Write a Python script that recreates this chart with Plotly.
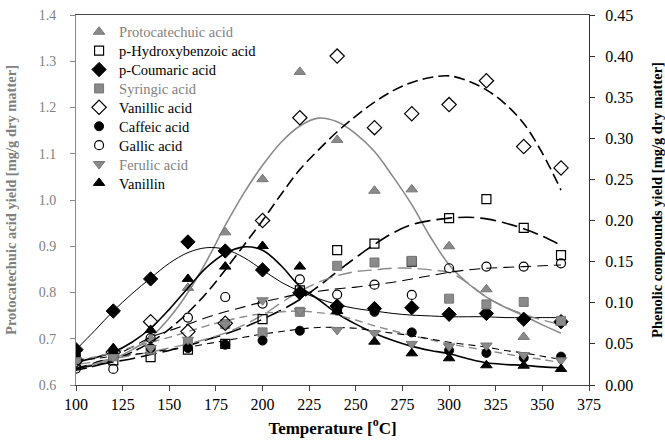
import plotly.graph_objects as go

FONT = "Liberation Serif"
GRAY = "#8a8a8a"
GRAY_TXT = "#7f7f7f"

# ---- measured data (temperature, °C) ----
temps = [100, 120, 140, 160, 180, 200, 220, 240, 260, 280, 300, 320, 340, 360]

protocatechuic = [0.655, 0.68, 0.70, 0.81, 0.93, 1.045, 1.277, 1.13, 1.02, 1.023, 0.90, 0.807, 0.704, 0.735]  # left axis
p_hydroxybenzoic = [0.025, 0.03, 0.034, 0.043, 0.05, 0.080, 0.115, 0.164, 0.172, 0.150, 0.203, 0.226, 0.191, 0.158]
p_coumaric = [0.043, 0.090, 0.129, 0.174, 0.163, 0.140, 0.112, 0.096, 0.093, 0.094, 0.086, 0.087, 0.080, 0.077]
syringic = [0.030, 0.035, 0.043, 0.050, 0.074, 0.064, 0.089, 0.145, 0.149, 0.151, 0.105, 0.098, 0.101, 0.078]
vanillic = [0.030, 0.040, 0.077, 0.065, 0.075, 0.200, 0.325, 0.400, 0.313, 0.330, 0.341, 0.370, 0.290, 0.264]
caffeic = [0.037, 0.040, 0.045, 0.045, 0.049, 0.054, 0.066, 0.091, 0.089, 0.064, 0.042, 0.039, 0.033, 0.0345]
gallic = [0.020, 0.0195, 0.057, 0.082, 0.107, 0.099, 0.1285, 0.110, 0.122, 0.1095, 0.142, 0.144, 0.144, 0.148]
ferulic = [0.030, 0.034, 0.045, 0.055, 0.074, 0.103, 0.090, 0.067, 0.063, 0.050, 0.047, 0.048, 0.0365, 0.030]
vanillin = [0.044, 0.0446, 0.067, 0.129, 0.144, 0.169, 0.144, 0.090, 0.0527, 0.0385, 0.0325, 0.024, 0.0235, 0.0195]

# ---- fitted curves ----
fit_temps = [100, 110, 120, 130, 140, 150, 160, 170, 180, 190, 200, 210, 220, 230,
             240, 250, 260, 270, 280, 290, 300, 310, 320, 330, 340, 350, 360]
protocatechuic_fit = [0.638, 0.645, 0.657, 0.676, 0.703, 0.745, 0.80, 0.868, 0.945, 1.015, 1.075, 1.125, 1.16, 1.177,
                      1.169, 1.143, 1.105, 1.05, 0.99, 0.92, 0.86, 0.82, 0.79, 0.768, 0.75, 0.73, 0.712]
vanillic_fit = [0.018, 0.023, 0.03, 0.04, 0.052, 0.068, 0.088, 0.112, 0.14, 0.17, 0.20, 0.232, 0.262, 0.286,
                0.308, 0.327, 0.344, 0.358, 0.368, 0.374, 0.376, 0.37, 0.359, 0.342, 0.318, 0.282, 0.237]
p_hydroxybenzoic_fit = [0.02, 0.024, 0.028, 0.032, 0.037, 0.042, 0.048, 0.055, 0.062, 0.07, 0.08, 0.091, 0.104, 0.12,
                        0.138, 0.155, 0.171, 0.185, 0.195, 0.2, 0.203, 0.204, 0.202, 0.197, 0.19, 0.181, 0.17]
p_coumaric_fit = [0.043, 0.066, 0.09, 0.111, 0.13, 0.148, 0.161, 0.167, 0.165, 0.155, 0.14, 0.125, 0.114, 0.105,
                  0.098, 0.093, 0.09, 0.087, 0.085, 0.084, 0.083, 0.083, 0.083, 0.082, 0.082, 0.082, 0.082]
vanillin_fit = [0.028, 0.033, 0.04, 0.052, 0.069, 0.092, 0.118, 0.143, 0.16, 0.168, 0.164, 0.145, 0.12, 0.104,
                0.087, 0.074, 0.063, 0.054, 0.047, 0.042, 0.038, 0.032, 0.027, 0.025, 0.024, 0.022, 0.021]
syringic_fit = [0.025, 0.028, 0.032, 0.036, 0.04, 0.045, 0.05, 0.056, 0.063, 0.073, 0.085, 0.1, 0.114, 0.125,
                0.133, 0.138, 0.14, 0.142, 0.142, 0.14, 0.137, 0.124, 0.107, 0.095, 0.086, 0.079, 0.073]
gallic_fit = [0.02, 0.027, 0.035, 0.046, 0.058, 0.066, 0.074, 0.082, 0.089, 0.095, 0.101, 0.106, 0.111, 0.114,
              0.117, 0.119, 0.122, 0.125, 0.129, 0.133, 0.137, 0.14, 0.142, 0.143, 0.144, 0.145, 0.146]
ferulic_fit = [0.03, 0.034, 0.04, 0.046, 0.052, 0.058, 0.065, 0.072, 0.078, 0.083, 0.087, 0.089, 0.09, 0.088,
               0.085, 0.079, 0.072, 0.066, 0.06, 0.055, 0.05, 0.046, 0.042, 0.038, 0.034, 0.031, 0.027]
caffeic_fit = [0.03, 0.032, 0.035, 0.037, 0.04, 0.043, 0.046, 0.05, 0.054, 0.058, 0.062, 0.065, 0.068, 0.07,
               0.07, 0.069, 0.066, 0.063, 0.06, 0.056, 0.052, 0.049, 0.046, 0.042, 0.039, 0.035, 0.031]

fig = go.Figure()

def fit_line(y, color, dash, width, axis="y2"):
    fig.add_trace(go.Scatter(x=fit_temps, y=y, mode="lines", yaxis=axis, showlegend=False,
                             hoverinfo="skip", line=dict(color=color, dash=dash, width=width, shape="spline")))

fit_line(protocatechuic_fit, GRAY, "solid", 1.6, axis="y")
fit_line(vanillic_fit, "black", "11px,5px", 1.6)
fit_line(p_hydroxybenzoic_fit, "black", "16px,6px", 1.6)
fit_line(p_coumaric_fit, "black", "solid", 1.0)
fit_line(vanillin_fit, "black", "solid", 1.6)
fit_line(syringic_fit, GRAY, "14px,6px", 1.4)
fit_line(gallic_fit, "black", "11px,6px", 1.1)
fit_line(ferulic_fit, GRAY, "8px,5px", 1.4)
fit_line(caffeic_fit, "black", "7px,5px", 1.1)

def gray_name(s):
    return f'<span style="color:{GRAY_TXT}">{s}</span>'

legend_count = [0]

def pts(y, name, symbol, fill, line_color, size, axis="y2", lw=1.0):
    legend_count[0] += 1
    lg = "legend" if legend_count[0] == 1 else f"legend{legend_count[0]}"
    fig.add_trace(go.Scatter(x=temps, y=y, mode="markers", name=name, yaxis=axis, legend=lg,
                             marker=dict(symbol=symbol, size=size, color=fill,
                                         line=dict(color=line_color, width=lw))))

pts(protocatechuic, gray_name("Protocatechuic acid"), "triangle-up", GRAY, "#777777", 10, axis="y")
pts(p_hydroxybenzoic, "p-Hydroxybenzoic acid", "square-open", "black", "black", 9, lw=1.2)
pts(p_coumaric, "p-Coumaric acid", "diamond", "black", "black", 11)
pts(syringic, gray_name("Syringic acid"), "square", GRAY, "#777777", 9)
pts(vanillic, "Vanillic acid", "diamond-open", "black", "black", 11, lw=1.2)
pts(caffeic, "Caffeic acid", "circle", "black", "black", 9)
pts(gallic, "Gallic acid", "circle-open", "black", "black", 9, lw=1.2)
pts(ferulic, gray_name("Ferulic acid"), "triangle-down", GRAY, "#777777", 10)
pts(vanillin, "Vanillin", "triangle-up", "black", "black", 10)

# one single-entry legend per row so the row pitch matches the original
PLOT_TOP, PLOT_BOTTOM = 15, 385
legends = {}
for i in range(9):
    row_px = 31.8 + i * 18.9
    key = "legend" if i == 0 else f"legend{i + 1}"
    legends[key] = dict(x=0.006, y=(PLOT_BOTTOM - row_px) / (PLOT_BOTTOM - PLOT_TOP),
                        xanchor="left", yanchor="middle", bgcolor="rgba(0,0,0,0)",
                        font=dict(family=FONT, size=14.5, color="black"), itemwidth=30)

fig.update_layout(
    width=665, height=445,
    margin=dict(l=76, r=76, t=15, b=60, autoexpand=False),
    paper_bgcolor="white", plot_bgcolor="white",
    font=dict(family=FONT, size=13, color="black"),
    showlegend=True,
    **legends,
    xaxis=dict(range=[100, 375], tickmode="array", tickvals=list(range(100, 376, 25)),
               showgrid=False, zeroline=False, showline=True, linecolor="#444", linewidth=1,
               mirror=True, ticks="outside", ticklen=5, tickcolor="#444", automargin=False,
               tickfont=dict(family=FONT, size=16, color="black"),
               title=dict(text="<b>Temperature [<sup>o</sup>C]</b>", font=dict(family=FONT, size=17, color="black"),
                          standoff=9)),
    yaxis=dict(range=[0.6, 1.4], tickmode="array", tickvals=[0.6, 0.7, 0.8, 0.9, 1.0, 1.1, 1.2, 1.3, 1.4],
               tickformat=".1f", showgrid=False, zeroline=False, showline=True, linecolor="#888", linewidth=1,
               ticks="outside", ticklen=5, tickcolor="#888", ticklabelstandoff=11, automargin=False,
               tickfont=dict(family=FONT, size=14, color=GRAY_TXT),
               title=dict(text="<b>Protocatechuic acid yield [mg/g dry matter]</b>",
                          font=dict(family=FONT, size=14.5, color=GRAY_TXT), standoff=18)),
    yaxis2=dict(range=[0, 0.45], overlaying="y", side="right", tickmode="array",
                tickvals=[0, 0.05, 0.10, 0.15, 0.20, 0.25, 0.30, 0.35, 0.40, 0.45], tickformat=".2f",
                showgrid=False, zeroline=False, showline=True, linecolor="#333", linewidth=1,
                ticks="outside", ticklen=5, tickcolor="#333", ticklabelstandoff=7, automargin=False,
                tickfont=dict(family=FONT, size=16, color="black"),
                title=dict(text="<b>Phenolic compounds yield [mg/g dry matter]</b>",
                           font=dict(family=FONT, size=14.5, color="black"), standoff=20)),
)

fig.write_html("out.html")
